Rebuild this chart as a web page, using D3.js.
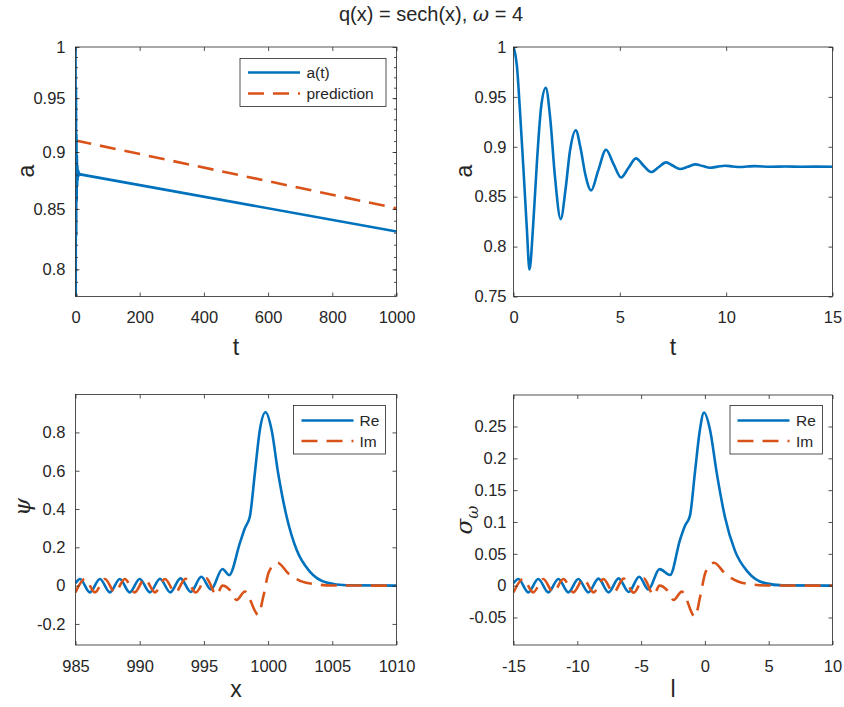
<!DOCTYPE html>
<html>
<head>
<meta charset="UTF-8">
<title>q(x) = sech(x), omega = 4</title>
<script src="https://d3js.org/d3.v7.min.js"></script>
<style>
  body { margin: 0; background: #fff; }
  svg { font-family: "Liberation Sans", Arial, Helvetica, sans-serif; }
  .tick text { fill: #262626; }
  .tick line { stroke: #262626; }
</style>
</head>
<body>
<script>
// ---- data ----
// a(t), short times (top right, also start of top left)
var aShortT = [0, 0.16, 0.31, 0.47, 0.63, 0.75, 0.92, 1.1, 1.3, 1.52, 1.72, 1.95, 2.22, 2.45, 2.65, 2.93,
  3.15, 3.38, 3.65, 3.98, 4.35, 4.7, 5.06, 5.41, 5.76, 6.12, 6.47, 6.82, 7.17, 7.5, 7.83, 8.2, 8.56,
  8.9, 9.24, 9.6, 9.94, 10.3, 10.65, 11.0, 11.35, 12.1, 12.8, 13.5, 14.2, 15];
var aShortV = [1.0, 0.981, 0.934, 0.877, 0.817, 0.777, 0.82, 0.884, 0.94, 0.959, 0.93, 0.87, 0.8275, 0.858, 0.895, 0.9165,
  0.899, 0.872, 0.8563, 0.876, 0.8971, 0.883, 0.8693, 0.879, 0.8884, 0.881, 0.8747, 0.8795, 0.8844, 0.881, 0.8777, 0.880, 0.8824,
  0.8807, 0.879, 0.8801, 0.881, 0.8803, 0.8797, 0.8802, 0.8806, 0.88, 0.8803, 0.88, 0.8801, 0.88];
// a(t), long times (top left)
var aLongT = [1000];
var aLongV = [0.831];
var predT = [0, 1000];
var predV = [0.9105, 0.8505];

// psi(x) (bottom left)
var psiX = [985.0, 985.35, 986.12, 986.9, 987.68, 988.45, 989.22, 990.0, 990.8, 991.58, 992.38, 993.18, 993.98,
  994.8, 995.55, 996.45, 996.97, 997.8, 998.19, 998.58, 998.97, 999.36, 999.8, 1000.27, 1000.78, 1001.44,
  1002.22, 1003.25, 1004.55, 1006.1, 1010];
var psiRe = [0.012, 0.035, -0.035, 0.035, -0.035, 0.035, -0.035, 0.035, -0.035, 0.036, -0.035, 0.038, -0.033,
  0.046, -0.02, 0.087, 0.055, 0.222, 0.30, 0.361, 0.588, 0.814, 0.905, 0.814, 0.588, 0.361,
  0.187, 0.073, 0.016, 0.002, 0];
var psiImX = [985.0, 985.74, 986.51, 987.29, 988.07, 988.84, 989.61, 990.39, 991.19, 991.97, 992.77, 993.57, 994.37,
  995.19, 995.98, 996.45, 997.05, 997.55, 998.19, 999.23, 999.65, 1000.05, 1000.72, 1001.6, 1002.6, 1003.7, 1005, 1010];
var psiIm = [-0.035, 0.035, -0.035, 0.035, -0.035, 0.035, -0.035, 0.035, -0.035, 0.035, -0.036, 0.036, -0.036,
  0.038, -0.049, 0.0, -0.025, -0.075, -0.031, -0.152, -0.05, 0.07, 0.12, 0.062, 0.022, 0.007, 0.001, 0];

// sigma_omega(l) (bottom right)
var sigX = [-15, -14.62, -13.84, -13.06, -12.27, -11.48, -10.7, -9.92, -9.13, -8.34, -7.55, -6.76, -5.97,
  -5.15, -4.43, -3.55, -2.73, -1.95, -1.56, -1.17, -0.78, -0.39, -0.07, 0.4, 0.92, 1.57,
  2.35, 3.39, 4.7, 6.1, 10];
var sigRe = [0.004, 0.0105, -0.0105, 0.0105, -0.0105, 0.0105, -0.0105, 0.0105, -0.0105, 0.011, -0.0105, 0.0115, -0.01,
  0.014, -0.006, 0.026, 0.0168, 0.072, 0.094, 0.11, 0.178, 0.245, 0.272, 0.245, 0.178, 0.108,
  0.055, 0.021, 0.004, 0.0005, 0];
var sigImX = [-15, -14.24, -13.46, -12.67, -11.88, -11.09, -10.31, -9.52, -8.73, -7.95, -7.16, -6.37, -5.58,
  -4.79, -4.02, -3.55, -2.95, -2.45, -1.81, -0.78, -0.35, 0.05, 0.72, 1.6, 2.6, 3.7, 5, 10];
var sigIm = [-0.0105, 0.0105, -0.0105, 0.0105, -0.0105, 0.0105, -0.0105, 0.0105, -0.0105, 0.0105, -0.011, 0.011, -0.011,
  0.0115, -0.0147, 0.0, -0.0075, -0.0225, -0.0093, -0.0487, -0.015, 0.021, 0.036, 0.0186, 0.0066, 0.002, 0.0003, 0];

// ticks
var tLongTicks = [0, 200, 400, 600, 800, 1000];
var aLogTicks = [0.8, 0.85, 0.9, 0.95, 1];
var aMinorTicks = d3.range(78, 100).map(function (d) { return d / 100; });
var tShortTicks = [0, 5, 10, 15];
var aTicks = [0.75, 0.8, 0.85, 0.9, 0.95, 1];
var xTicks = [985, 990, 995, 1000, 1005, 1010];
var psiTicks = [-0.2, 0, 0.2, 0.4, 0.6, 0.8];
var lTicks = [-15, -10, -5, 0, 5, 10];
var sigTicks = [-0.05, 0, 0.05, 0.1, 0.15, 0.2, 0.25];

var BLUE = "#0072BD", ORANGE = "#D95319", INK = "#262626";

var svg = d3.select("body").append("svg").attr("width", 844).attr("height", 707);

function zip(xs, ys) { return xs.map(function (v, i) { return [v, ys[i]]; }); }

var clipId = 0;
function panel(o) {
  var g = svg.append("g");
  var x = d3.scaleLinear().domain(o.xDomain).range([o.left, o.right]);
  var y = (o.log ? d3.scaleLog() : d3.scaleLinear()).domain(o.yDomain).range([o.bottom, o.top]);

  var cid = "clip" + (clipId++);
  svg.append("clipPath").attr("id", cid).append("rect")
    .attr("x", o.left).attr("y", o.top).attr("width", o.right - o.left).attr("height", o.bottom - o.top);

  var plot = g.append("g").attr("clip-path", "url(#" + cid + ")");
  o.series.forEach(function (s) {
    var line = d3.line().x(function (d) { return x(d[0]); }).y(function (d) { return y(d[1]); })
      .curve(s.linear ? d3.curveLinear : d3.curveMonotoneX);
    plot.append("path").attr("d", line(s.data)).attr("fill", "none")
      .attr("stroke", s.color).attr("stroke-width", 2.6)
      .attr("stroke-dasharray", s.dash ? "16,9" : null);
  });

  var fmt = function (d) { return String(d); };
  g.append("g").attr("transform", "translate(0," + o.bottom + ")")
    .call(d3.axisBottom(x).tickValues(o.xTicks).tickSize(-4).tickPadding(15).tickFormat(fmt));
  g.append("g").attr("transform", "translate(" + o.left + ",0)")
    .call(d3.axisLeft(y).tickValues(o.yTicks).tickSize(-4).tickPadding(o.yPad).tickFormat(fmt));
  g.append("g").attr("transform", "translate(0," + o.top + ")")
    .call(d3.axisTop(x).tickValues(o.xTicks).tickSize(-4).tickFormat(""));
  g.append("g").attr("transform", "translate(" + o.right + ",0)")
    .call(d3.axisRight(y).tickValues(o.yTicks).tickSize(-4).tickFormat(""));
  if (o.minor) {
    g.append("g").attr("transform", "translate(" + o.left + ",0)")
      .call(d3.axisLeft(y).tickValues(o.minor).tickSize(-2.5).tickFormat(""));
    g.append("g").attr("transform", "translate(" + o.right + ",0)")
      .call(d3.axisRight(y).tickValues(o.minor).tickSize(-2.5).tickFormat(""));
  }
  g.selectAll(".domain").remove();
  g.selectAll(".tick text").attr("font-size", 16.5).attr("font-family", null);
  g.selectAll(".tick line").attr("stroke-width", 0.8);

  g.append("rect").attr("x", o.left).attr("y", o.top)
    .attr("width", o.right - o.left).attr("height", o.bottom - o.top)
    .attr("fill", "none").attr("stroke", INK).attr("stroke-width", 0.8);

  // axis labels
  g.append("text").attr("x", (o.left + o.right) / 2).attr("y", o.bottom + o.xLabelOff)
    .attr("text-anchor", "middle").attr("font-size", 23).attr("fill", INK).text(o.xLabel);
  var yl = g.append("text").attr("transform", "translate(" + o.yLabelX + "," + o.yLabelY + ") rotate(-90)")
    .attr("text-anchor", "middle").attr("font-size", 23).attr("fill", INK);
  if (o.yLabel === "psi") {
    yl.append("tspan").attr("font-family", "'DejaVu Serif', serif").attr("font-style", "italic").text("\u03C8");
  } else if (o.yLabel === "sigma") {
    yl.append("tspan").attr("font-family", "'DejaVu Serif', serif").attr("font-style", "italic").text("\u03C3");
    yl.append("tspan").attr("font-family", "'DejaVu Serif', serif").attr("font-style", "italic")
      .attr("font-size", 16).attr("dy", 6).text("\u03C9");
  } else {
    yl.text(o.yLabel);
  }

  // legend
  if (o.legend) {
    var L = o.legend;
    g.append("rect").attr("x", L.x0).attr("y", L.y0).attr("width", L.x1 - L.x0).attr("height", L.y1 - L.y0)
      .attr("fill", "#fff").attr("stroke", INK).attr("stroke-width", 0.8);
    L.items.forEach(function (it, i) {
      var ry = L.rows[i];
      g.append("line").attr("x1", L.lx0).attr("x2", L.lx1).attr("y1", ry).attr("y2", ry)
        .attr("stroke", it.color).attr("stroke-width", 2.6)
        .attr("stroke-dasharray", it.dash ? "16,9" : null);
      g.append("text").attr("x", L.tx).attr("y", ry + 5.5).attr("font-size", 15.5).attr("fill", INK).text(it.label);
    });
  }
}

var aFull = zip(aShortT, aShortV).concat(zip(aLongT, aLongV));

panel({
  left: 75.5, right: 396.5, top: 47, bottom: 296.5,
  xDomain: [0, 1000], yDomain: [0.7785, 1], log: true,
  xTicks: tLongTicks, yTicks: aLogTicks, minor: aMinorTicks, yPad: 10,
  xLabel: "t", xLabelOff: 58, yLabel: "a", yLabelX: 34, yLabelY: 171,
  series: [
    { data: zip(predT, predV), color: ORANGE, dash: true, linear: true },
    { data: aFull, color: BLUE, linear: true }
  ],
  legend: { x0: 240, x1: 386, y0: 58.5, y1: 106.5, lx0: 248, lx1: 300, tx: 306.5, rows: [72.5, 93.5],
    items: [{ label: "a(t)", color: BLUE }, { label: "prediction", color: ORANGE, dash: true }] }
});

panel({
  left: 513.5, right: 832.5, top: 47, bottom: 296.5,
  xDomain: [0, 15], yDomain: [0.75, 1],
  xTicks: tShortTicks, yTicks: aTicks, yPad: 7,
  xLabel: "t", xLabelOff: 58, yLabel: "a", yLabelX: 472, yLabelY: 171,
  series: [{ data: zip(aShortT, aShortV), color: BLUE }]
});

panel({
  left: 75.5, right: 396.5, top: 394.5, bottom: 645,
  xDomain: [985, 1010], yDomain: [-0.31, 0.998],
  xTicks: xTicks, yTicks: psiTicks, yPad: 10,
  xLabel: "x", xLabelOff: 52, yLabel: "psi", yLabelX: 30, yLabelY: 507,
  series: [
    { data: zip(psiX, psiRe), color: BLUE },
    { data: zip(psiImX, psiIm), color: ORANGE, dash: true }
  ],
  legend: { x0: 293.5, x1: 385.5, y0: 405.5, y1: 454, lx0: 301.5, lx1: 353.5, tx: 359.5, rows: [420.5, 441],
    items: [{ label: "Re", color: BLUE }, { label: "Im", color: ORANGE, dash: true }] }
});

panel({
  left: 513.5, right: 832.5, top: 395, bottom: 645,
  xDomain: [-15, 10], yDomain: [-0.0932, 0.2995],
  xTicks: lTicks, yTicks: sigTicks, yPad: 7,
  xLabel: "l", xLabelOff: 52, yLabel: "sigma", yLabelX: 472, yLabelY: 520,
  series: [
    { data: zip(sigX, sigRe), color: BLUE },
    { data: zip(sigImX, sigIm), color: ORANGE, dash: true }
  ],
  legend: { x0: 730, x1: 822.5, y0: 405.5, y1: 454, lx0: 737.5, lx1: 789.5, tx: 796, rows: [420.5, 441],
    items: [{ label: "Re", color: BLUE }, { label: "Im", color: ORANGE, dash: true }] }
});

// title
var title = svg.append("text").attr("x", 431).attr("y", 21).attr("text-anchor", "middle")
  .attr("font-size", 20).attr("fill", INK);
title.append("tspan").text("q(x) = sech(x), ");
title.append("tspan").attr("font-family", "'DejaVu Serif', serif").attr("font-style", "italic").text("\u03C9");
title.append("tspan").text(" = 4");
</script>
</body>
</html>
